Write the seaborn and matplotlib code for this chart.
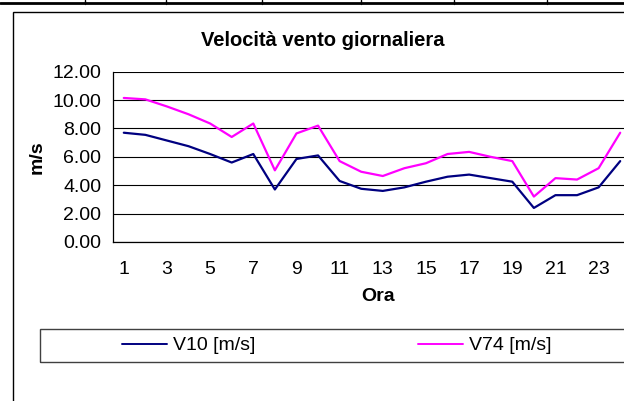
import matplotlib
matplotlib.use("Agg")
import matplotlib.pyplot as plt
import seaborn as sns
import pandas as pd
from matplotlib.patches import Rectangle
from matplotlib.lines import Line2D
from matplotlib.ticker import FormatStrFormatter, MultipleLocator

# hourly wind speed
hours = list(range(1, 25))
v10 = [7.7, 7.55, 7.15, 6.75, 6.2, 5.6, 6.2, 3.7, 5.85, 6.1, 4.3, 3.75,
       3.6, 3.85, 4.25, 4.6, 4.75, 4.5, 4.25, 2.4, 3.3, 3.3, 3.85, 5.7]
v74 = [10.15, 10.05, 9.55, 9.0, 8.35, 7.4, 8.35, 5.05, 7.65, 8.2, 5.7, 4.95,
       4.65, 5.2, 5.55, 6.2, 6.35, 6.0, 5.7, 3.2, 4.5, 4.4, 5.2, 7.7]
series_names = ['V10 [m/s]', 'V74 [m/s]']
series_colors = ['#000080', '#FF00FF']

df = pd.DataFrame({
    'Ora': hours * 2,
    'vel': v10 + v74,
    'serie': [series_names[0]] * 24 + [series_names[1]] * 24,
})

sns.set_style('white')
plt.rcParams['font.family'] = ['Liberation Sans', 'DejaVu Sans']
plt.rcParams['text.color'] = 'black'
plt.rcParams['axes.labelcolor'] = 'black'
plt.rcParams['xtick.color'] = 'black'
plt.rcParams['ytick.color'] = 'black'

W, H = 624, 401
FS = 14
fig = plt.figure(figsize=(W / 100, H / 100), dpi=100)
ax = fig.add_axes([113 / W, 159 / H, 518 / W, 170.3 / H])

sns.lineplot(data=df, x='Ora', y='vel', hue='serie', palette=series_colors,
             linewidth=1.6, ax=ax, legend=True)

ax.set_xlim(0.5, 24.5)
ax.set_ylim(0, 12)
ax.yaxis.set_major_locator(MultipleLocator(2))
ax.yaxis.set_major_formatter(FormatStrFormatter('%.2f'))
ax.set_xticks(hours[::2])
ax.set_xticks([h + 0.5 for h in range(0, 25)], minor=True)
ax.tick_params(axis='x', which='major', length=0, pad=14, labelsize=FS)
ax.tick_params(axis='x', which='minor', length=4, width=0.8, direction='out', color='black')
ax.tick_params(axis='y', length=4.5, width=0.8, direction='out', color='black', pad=4, labelsize=FS)
ax.grid(axis='y', color='black', linewidth=0.8)
ax.set_axisbelow(True)
for side in ['left', 'bottom']:
    ax.spines[side].set_color('black')
    ax.spines[side].set_linewidth(0.9)
ax.spines['top'].set_visible(False)
ax.spines['right'].set_visible(False)

ax.set_xlabel('Ora', fontsize=FS, fontweight='bold')
ax.xaxis.set_label_coords((378 - 113) / 518, -0.27)
ax.set_ylabel('m/s', fontsize=FS, fontweight='bold')
ax.yaxis.set_label_coords(-0.13, 0.5)

fig.text(323 / W, 1 - 40 / H, 'Velocità vento giornaliera', ha='center', va='center',
         fontsize=14.5, fontweight='bold')

# legend: frameless entries inside a drawn box
handles, labels = ax.get_legend_handles_labels()
leg = ax.legend(handles, labels, ncol=2, frameon=False, fontsize=FS,
                loc='center left', bbox_to_anchor=(122 / W, 1 - 345.5 / H),
                bbox_transform=fig.transFigure, handlelength=2.3, handletextpad=0.3,
                columnspacing=8.4, borderpad=0, borderaxespad=0)
for h in leg.legend_handles:
    h.set_linewidth(1.4)
fig.add_artist(Rectangle((40 / W, 1 - 362 / H), 1.0, 33 / H, transform=fig.transFigure,
                         fill=False, edgecolor='#404040', linewidth=1))

# outer chart frame and the table border above it
fig.add_artist(Rectangle((13 / W, -0.05), 1.0, 1.05 - 12 / H, transform=fig.transFigure,
                         fill=False, edgecolor='black', linewidth=1))
fig.add_artist(Line2D([0, 1], [1 - 2.5 / H] * 2, transform=fig.transFigure,
                      color='black', linewidth=2))
for xv in [85, 166, 262, 361, 454, 547]:
    fig.add_artist(Line2D([xv / W] * 2, [1, 1 - 4 / H], transform=fig.transFigure,
                          color='black', linewidth=1))

fig.savefig('out.png', dpi=100)
